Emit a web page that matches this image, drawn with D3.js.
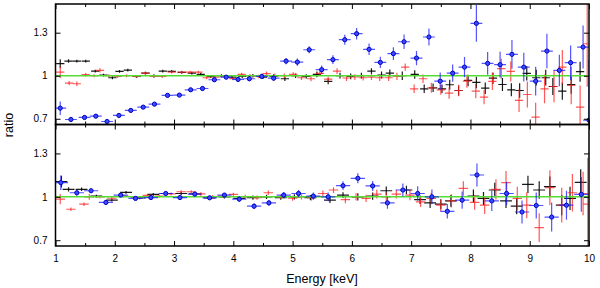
<!DOCTYPE html>
<html><head><meta charset="utf-8">
<script src="https://cdn.jsdelivr.net/npm/d3@7"></script>
<style>html,body{margin:0;padding:0;background:#fff;}svg{display:block;font-family:"Liberation Sans",Arial,sans-serif;}</style>
</head><body>
<svg id="c" width="600" height="288"></svg>
<script>
// ---- data: [energy keV, ratio, ratio error] ----
const topBlack = [
[1.08,1.084,0.03],[1.22,1.102,0.012],[1.36,1.102,0.01],[1.51,1.102,0.01],[1.67,1.032,0.01],[1.81,1.004,0.01],
[1.96,0.986,0.01],[2.08,1.03,0.01],[2.22,1.039,0.01],[2.37,0.995,0.01],[2.52,1.018,0.01],[2.66,1.0,0.01],
[2.81,1.032,0.01],[2.96,1.03,0.01],[3.13,1.023,0.01],[3.3,1.018,0.01],[3.45,1.01,0.01],[3.62,0.995,0.01],
[3.8,1.0,0.01],[3.98,0.99,0.012],[4.15,0.995,0.012],[4.33,1.0,0.012],[4.5,0.99,0.012],[4.68,0.995,0.015],
[4.87,0.979,0.015],[5.05,1.0,0.015],[5.23,0.995,0.015],[5.41,1.01,0.02],[5.6,0.96,0.02],[5.8,1.0,0.02],
[5.98,0.995,0.02],[6.16,1.0,0.02],[6.33,1.032,0.02],[6.5,1.005,0.025],[6.64,1.018,0.025],[6.85,1.0,0.03],
[7.06,1.009,0.03],[7.22,0.909,0.03],[7.37,0.916,0.03],[7.52,0.909,0.03],[7.65,0.937,0.035],[7.8,0.897,0.035],
[7.96,0.967,0.04],[8.1,0.953,0.04],[8.25,0.913,0.04],[8.38,0.983,0.04],[8.54,0.939,0.045],[8.69,0.902,0.045],
[8.83,0.897,0.05],[8.95,1.016,0.05],[9.11,0.986,0.055],[9.27,0.986,0.055],[9.39,0.925,0.06],[9.55,0.893,0.06],
[9.7,0.939,0.065],[9.85,1.028,0.07]];
const topRed = [
[1.08,1.025,0.04],[1.23,0.948,0.015],[1.36,0.944,0.015],[1.51,1.007,0.012],[1.65,1.0,0.01],[1.75,1.037,0.015],
[1.9,1.0,0.01],[2.05,0.995,0.01],[2.2,1.0,0.01],[2.36,0.995,0.01],[2.51,1.018,0.01],[2.66,0.995,0.01],
[2.8,0.995,0.01],[2.96,1.025,0.01],[3.13,1.025,0.01],[3.27,1.025,0.01],[3.41,1.025,0.01],[3.55,0.986,0.01],
[3.7,0.99,0.01],[3.85,0.995,0.01],[4.0,0.98,0.012],[4.14,1.009,0.012],[4.28,1.0,0.012],[4.42,0.995,0.012],
[4.56,1.014,0.015],[4.7,1.0,0.015],[4.86,1.0,0.015],[5.01,1.009,0.015],[5.15,0.986,0.015],[5.31,0.979,0.018],
[5.46,1.016,0.018],[5.6,0.977,0.018],[5.75,1.032,0.02],[5.91,0.984,0.02],[6.05,0.991,0.02],[6.19,0.986,0.02],
[6.33,0.99,0.02],[6.47,0.986,0.022],[6.62,0.986,0.022],[6.76,0.995,0.025],[6.9,1.06,0.025],[7.05,0.909,0.03],
[7.2,0.979,0.03],[7.34,0.916,0.035],[7.5,0.902,0.035],[7.64,0.879,0.04],[7.8,0.897,0.04],[7.94,0.962,0.045],
[8.09,0.893,0.05],[8.23,0.851,0.05],[8.37,0.96,0.06],[8.52,1.049,0.07],[8.68,1.03,0.07],[8.82,0.828,0.08],
[8.96,0.869,0.09],[9.1,0.711,0.1],[9.25,0.909,0.1],[9.41,0.925,0.11],[9.55,1.06,0.12],[9.7,0.932,0.13],
[9.85,0.781,0.15],[9.97,1.223,0.3]];
const topBlue = [
[1.08,0.774,0.047],[1.26,0.695,0.015],[1.49,0.709,0.012],[1.68,0.718,0.012],[1.87,0.681,0.012],[2.07,0.723,0.012],
[2.27,0.758,0.012],[2.48,0.781,0.012],[2.67,0.802,0.012],[2.89,0.863,0.012],[3.09,0.865,0.012],[3.28,0.902,0.012],
[3.48,0.911,0.015],[3.68,0.972,0.015],[3.88,0.99,0.015],[4.08,0.974,0.015],[4.27,0.979,0.018],[4.48,0.995,0.018],
[4.68,0.983,0.02],[4.89,1.102,0.022],[5.08,1.095,0.025],[5.28,1.181,0.025],[5.49,1.042,0.03],[5.68,1.112,0.03],
[5.88,1.251,0.035],[6.08,1.293,0.04],[6.29,1.184,0.04],[6.48,1.093,0.04],[6.7,1.154,0.045],[6.88,1.237,0.05],
[7.09,1.123,0.05],[7.3,1.27,0.06],[7.49,0.962,0.06],[7.7,1.018,0.06],[7.9,1.06,0.07],[8.1,1.365,0.128],
[8.29,1.086,0.08],[8.5,1.077,0.09],[8.7,1.149,0.1],[8.9,1.06,0.1],[9.1,0.962,0.1],[9.29,1.172,0.12],
[9.5,1.037,0.11],[9.69,1.091,0.12],[9.9,1.2,0.15],[10.0,0.69,0.42]];
const botBlack = [
[1.1,1.105,0.04],[1.22,1.052,0.015],[1.44,1.052,0.012],[1.69,1.005,0.01],[1.95,0.977,0.01],[2.19,1.031,0.01],
[2.42,0.993,0.01],[2.65,1.017,0.01],[2.87,1.023,0.01],[3.12,1.023,0.01],[3.35,1.02,0.01],[3.6,0.993,0.012],
[3.85,1.0,0.012],[4.1,0.989,0.012],[4.33,0.995,0.015],[4.56,1.0,0.015],[4.8,0.995,0.015],[5.03,1.0,0.018],
[5.3,0.995,0.018],[5.63,0.977,0.02],[5.85,1.012,0.02],[6.1,1.0,0.025],[6.35,1.005,0.025],[6.58,1.042,0.03],
[6.92,1.047,0.03],[7.15,0.981,0.03],[7.32,0.958,0.035],[7.5,0.949,0.035],[7.67,0.972,0.04],[8.05,1.005,0.045],
[8.22,0.989,0.045],[8.41,1.047,0.05],[8.6,0.972,0.05],[8.78,0.935,0.055],[8.97,1.086,0.06],[9.16,1.047,0.06],
[9.34,1.07,0.07],[9.54,0.942,0.07],[9.68,0.989,0.08],[9.86,1.1,0.09]];
const botRed = [
[1.08,0.984,0.035],[1.26,0.914,0.012],[1.48,0.949,0.012],[1.57,1.0,0.02],[1.75,1.0,0.01],[1.95,0.99,0.01],
[2.15,1.005,0.01],[2.35,0.995,0.01],[2.55,1.01,0.01],[2.75,1.005,0.01],[2.95,1.02,0.01],[3.12,1.035,0.01],
[3.29,1.035,0.01],[3.45,1.02,0.012],[3.65,1.0,0.012],[3.82,1.005,0.012],[4.0,1.017,0.012],[4.2,1.0,0.015],
[4.4,0.995,0.015],[4.59,1.028,0.015],[4.8,1.0,0.015],[5.0,0.99,0.018],[5.15,1.0,0.018],[5.32,0.995,0.02],
[5.51,1.023,0.02],[5.69,1.047,0.02],[5.89,0.981,0.025],[6.07,1.0,0.025],[6.24,0.989,0.025],[6.42,1.019,0.03],
[6.58,1.0,0.03],[6.75,1.019,0.03],[6.98,1.012,0.035],[7.16,0.965,0.035],[7.34,0.989,0.04],[7.5,0.942,0.04],
[7.68,0.972,0.045],[7.88,1.058,0.05],[8.07,0.961,0.05],[8.24,0.942,0.06],[8.43,1.051,0.07],[8.6,1.098,0.08],
[8.79,0.989,0.08],[8.95,0.942,0.09],[9.16,0.787,0.1],[9.34,1.063,0.12],[9.54,0.942,0.12],[9.72,1.028,0.13],
[9.9,1.023,0.15],[9.98,0.95,0.32]];
const botBlue = [
[1.09,1.098,0.05],[1.36,1.028,0.02],[1.6,1.042,0.015],[1.85,0.961,0.012],[2.1,1.012,0.012],[2.35,0.989,0.012],
[2.61,0.995,0.012],[2.86,1.023,0.012],[3.1,0.995,0.015],[3.35,1.019,0.015],[3.6,0.993,0.015],[3.85,1.012,0.015],
[4.1,0.984,0.018],[4.35,0.935,0.02],[4.6,0.958,0.02],[4.85,1.012,0.022],[5.1,1.023,0.025],[5.35,1.005,0.025],
[5.6,1.0,0.03],[5.85,1.077,0.03],[6.1,1.128,0.035],[6.35,1.075,0.035],[6.6,0.958,0.04],[6.86,1.047,0.045],
[7.11,1.023,0.05],[7.35,1.0,0.05],[7.61,0.9,0.05],[7.86,0.977,0.06],[8.11,1.151,0.08],[8.36,0.972,0.07],
[8.61,1.023,0.08],[8.87,0.895,0.08],[9.11,0.94,0.09],[9.37,0.86,0.1],[9.62,0.942,0.1],[9.87,1.017,0.12]];
const xTicks = [1,2,3,4,5,6,7,8,9,10];
const xMinor = [1.5,2.5,3.5,4.5,5.5,6.5,7.5,8.5,9.5];
const yTicks = [0.7,1,1.3];
const yTickLabels = ["0.7","1","1.3"];
const xDomain = [1,10], yDomain = [0.66,1.5];

// ---- layout ----
const L = 55.5, R = 589;
const panels = [
  {top:4, bottom:124.5, sets:[[topBlack,0.07,"black"],[topRed,0.07,"red"],[topBlue,0.1,"blue"]], labels:false},
  {top:124.5, bottom:246, sets:[[botBlack,0.1,"black"],[botRed,0.08,"red"],[botBlue,0.12,"blue"]], labels:true}
];
const styles = {
  black:{stroke:"#000", op:0.9},
  red:{stroke:"#ff2020", op:0.75},
  blue:{stroke:"#1a1aff", op:0.75}
};
const svg = d3.select("#c");
const x = d3.scaleLinear().domain(xDomain).range([L,R]);

panels.forEach((p,i)=>{
  const y = d3.scaleLinear().domain(yDomain).range([p.bottom,p.top]);
  const clipId = "clip"+i;
  svg.append("clipPath").attr("id",clipId).append("rect")
    .attr("x",L).attr("y",p.top).attr("width",R-L).attr("height",p.bottom-p.top);
  const g = svg.append("g").attr("clip-path",`url(#${clipId})`);
  const drawSet = ([data,xe,col])=>{
    const st = styles[col];
    const s = g.append("g").attr("stroke",st.stroke).attr("stroke-opacity",st.op).attr("stroke-width",1.2);
    s.selectAll("line.v").data(data).join("line").attr("class","v")
      .attr("x1",d=>x(d[0])).attr("x2",d=>x(d[0]))
      .attr("y1",d=>y(d[1]-d[2])).attr("y2",d=>y(d[1]+d[2]));
    s.selectAll("line.h").data(data).join("line").attr("class","h")
      .attr("x1",d=>x(d[0]-xe)).attr("x2",d=>x(d[0]+xe))
      .attr("y1",d=>y(d[1])).attr("y2",d=>y(d[1]));
    if(col==="blue"){
      g.append("g").selectAll("circle").data(data).join("circle")
        .attr("cx",d=>x(d[0])).attr("cy",d=>y(d[1])).attr("r",2.1)
        .attr("fill","#3a4cff").attr("stroke","#0000c0").attr("stroke-width",1);
    }
  };
  drawSet(p.sets[0]); drawSet(p.sets[1]);
  g.append("line").attr("x1",L).attr("x2",R).attr("y1",y(1)).attr("y2",y(1))
    .attr("stroke","#55dd33").attr("stroke-width",1.6);
  drawSet(p.sets[2]);

  // axes (ticks inside)
  const ax = svg.append("g").attr("font-size",12).attr("font-family","Liberation Sans, Arial, sans-serif");
  ax.append("g").attr("transform",`translate(0,${p.bottom})`)
    .call(d3.axisBottom(x).tickValues(xTicks).tickSize(-5).tickPadding(9).tickFormat(p.labels?d3.format("d"):""));
  ax.append("g").attr("transform",`translate(0,${p.bottom})`)
    .call(d3.axisBottom(x).tickValues(xMinor).tickSize(-3).tickFormat(""));
  ax.append("g").attr("transform",`translate(0,${p.top})`)
    .call(d3.axisTop(x).tickValues(xTicks).tickSize(-5).tickFormat(""));
  ax.append("g").attr("transform",`translate(0,${p.top})`)
    .call(d3.axisTop(x).tickValues(xMinor).tickSize(-3).tickFormat(""));
  ax.append("g").attr("transform",`translate(${L},0)`)
    .call(d3.axisLeft(y).tickValues(yTicks).tickSize(-5).tickPadding(8).tickFormat((d,k)=>yTickLabels[k]));
  ax.append("g").attr("transform",`translate(${R},0)`)
    .call(d3.axisRight(y).tickValues(yTicks).tickSize(-5).tickFormat(""));
  ax.selectAll(".domain").remove();
  ax.selectAll(".tick line").attr("stroke","#000").attr("stroke-width",1);
  ax.selectAll(".tick text").attr("fill","#000");
  svg.append("rect").attr("x",L).attr("y",p.top).attr("width",R-L).attr("height",p.bottom-p.top)
    .attr("fill","none").attr("stroke","#000").attr("stroke-width",1.5);
});

svg.append("text").attr("x",322).attr("y",283).attr("text-anchor","middle")
  .attr("font-size",12.5).text("Energy [keV]");
svg.append("text").attr("transform","translate(13,125) rotate(-90)").attr("text-anchor","middle")
  .attr("font-size",12.5).text("ratio");
</script>
</body></html>
